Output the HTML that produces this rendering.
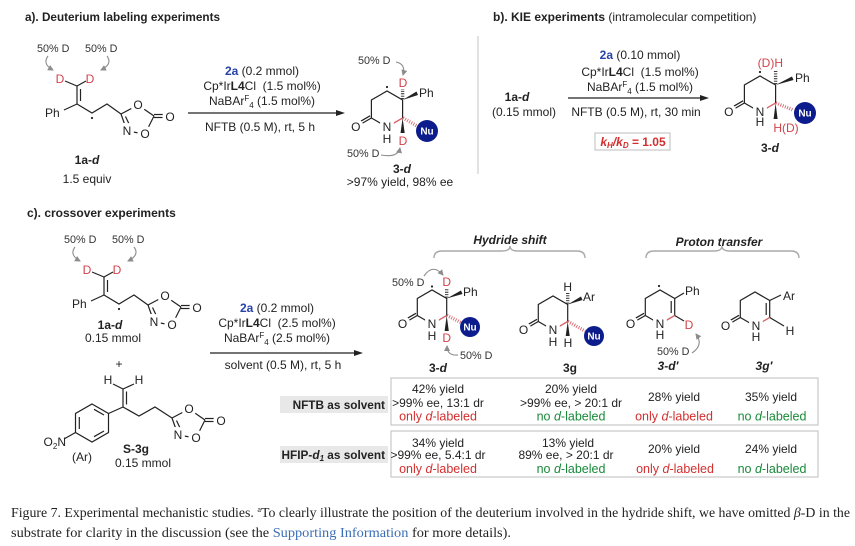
<!DOCTYPE html>
<html><head><meta charset="utf-8">
<style>
html,body{margin:0;padding:0;background:#fff;}
svg{display:block;}
text{font-family:"Liberation Sans",Arial,sans-serif;fill:#222;}
.t{font-size:12px;}
.s{font-size:10.8px;fill:#333;}
.b{font-weight:bold;}
.c{text-anchor:middle;}
.e{text-anchor:end;}
.W{fill:#fff;stroke:#fff;stroke-width:7px;stroke-linejoin:round;font-size:12px;text-anchor:middle;}
.L{font-size:12px;text-anchor:middle;fill:#222;}
.D{fill:#d2434b;font-size:12px;text-anchor:middle;}
.bd line,.bd polyline,.bd path{stroke:#222;stroke-width:1.2;fill:none;}
.rb{stroke:#d9636b;stroke-width:1.3;fill:none;}
.hs{stroke:#222;stroke-width:3.4;stroke-dasharray:0.9 1.5;fill:none;}
.hr{stroke:#d9636b;stroke-width:3.4;stroke-dasharray:0.9 1.5;fill:none;}
.gy{stroke:#8c8c8c;stroke-width:1.1;fill:none;}
.nu{fill:#0c1c8c;}
.nut{fill:#fff;font-weight:bold;font-size:10px;text-anchor:middle;}
.red{fill:#d32f2f;}
.grn{fill:#198a3a;}
.cap{font-family:"Liberation Serif",serif;font-size:13.5px;fill:#222;}
</style></head><body>
<svg width="855" height="546" viewBox="0 0 855 546">
<defs>
<marker id="ga" markerWidth="6" markerHeight="6" refX="5" refY="3" orient="auto" markerUnits="userSpaceOnUse">
<path d="M0,0 L6,3 L0,6 Z" fill="#8c8c8c"/>
</marker>
</defs>

<!-- ========== a) ========== -->
<text x="25" y="21" class="b" font-size="12" textLength="195" lengthAdjust="spacingAndGlyphs">a). Deuterium labeling experiments</text>

<g>
<text x="37" y="52" class="s">50% D</text>
<text x="85" y="52" class="s">50% D</text>
<path class="gy" d="M48,56 Q42,64 53,70" marker-end="url(#ga)"/>
<path class="gy" d="M107,56 Q113,64 101,70" marker-end="url(#ga)"/>
<g class="bd">
<line x1="65" y1="81" x2="77" y2="86"/>
<line x1="86" y1="81" x2="77" y2="86"/>
<line x1="77" y1="86" x2="77" y2="104"/>
<line x1="80.5" y1="89" x2="80.5" y2="101"/>
<line x1="64" y1="110" x2="77" y2="104"/>
<polyline points="77,104 92,113 107,104 121,114"/>
<line x1="121" y1="114" x2="138" y2="105"/>
<line x1="138" y1="105" x2="154" y2="116"/>
<line x1="154" y1="114.5" x2="166" y2="114.5"/>
<line x1="154" y1="117.5" x2="166" y2="117.5"/>
<line x1="154" y1="116" x2="145" y2="134"/>
<line x1="145" y1="134" x2="127" y2="131"/>
<line x1="127" y1="131" x2="121" y2="114"/>
<line x1="130.5" y1="127" x2="125.5" y2="116.5"/>
</g>
<circle cx="92" cy="118" r="1.1" fill="#222"/>
<text x="60" y="83" class="D">D</text>
<text x="90" y="83" class="D">D</text>
<text x="45" y="117" class="t">Ph</text>
<text x="138" y="109" class="W">O</text><text x="138" y="109" class="L">O</text>
<text x="145" y="138" class="W">O</text><text x="145" y="138" class="L">O</text>
<text x="127" y="135" class="W">N</text><text x="127" y="135" class="L">N</text>
<text x="170" y="121" class="W">O</text><text x="170" y="121" class="L">O</text>
</g>
<text x="87" y="164" class="t b c">1a-<tspan font-style="italic">d</tspan></text>
<text x="87" y="183" class="t c">1.5 equiv</text>

<text x="262" y="75" class="t c"><tspan fill="#2742a8" font-weight="bold">2a</tspan> (0.2 mmol)</text>
<text x="262" y="90" class="t c">Cp*Ir<tspan font-weight="bold">L4</tspan>Cl&#160; (1.5 mol%)</text>
<text x="262" y="105" class="t c">NaBAr<tspan dy="-4" font-size="8">F</tspan><tspan dy="7" font-size="8">4</tspan><tspan dy="-3"> (1.5 mol%)</tspan></text>
<line x1="188" y1="113" x2="337" y2="113" stroke="#222" stroke-width="1.2"/>
<polygon points="336,110 345,113 336,116" fill="#222"/>
<text x="260" y="131" class="t c">NFTB (0.5 M), rt, 5 h</text>

<!-- a product 3-d -->
<g class="bd">
<polyline points="371.4,118 371.4,100 387,91 402.6,100 402.6,118"/>
<line x1="387" y1="127" x2="371.4" y2="118"/>
<line x1="371.4" y1="118" x2="355.8" y2="127"/>
<line x1="370.1" y1="115.8" x2="354.5" y2="124.8"/>
</g>
<line class="rb" x1="402.6" y1="118" x2="387" y2="127"/>
<circle cx="387" cy="87" r="1.1" fill="#222"/>
<line class="hs" x1="402.6" y1="99" x2="402.6" y2="89"/>
<text x="403" y="87" class="D">D</text>
<text x="358" y="64" class="s">50% D</text>
<path class="gy" d="M396,62 Q406,64 403,75" marker-end="url(#ga)"/>
<polygon points="402.6,100 416.5,91.5 418,95" fill="#222"/>
<text x="419" y="97" class="t">Ph</text>
<line class="hr" x1="403" y1="118" x2="417" y2="126"/>
<circle cx="427" cy="131" r="11" class="nu"/>
<text x="427" y="134.5" class="nut">Nu</text>
<polygon points="402.6,118 400.5,133 404.7,133" fill="#222"/>
<text x="403" y="145" class="D">D</text>
<text x="355.8" y="131" class="W">O</text><text x="355.8" y="131" class="L">O</text>
<text x="387" y="131" class="W">N</text><text x="387" y="131" class="L">N</text>
<text x="387" y="143" class="t c">H</text>
<text x="347" y="157" class="s">50% D</text>
<path class="gy" d="M381,155 Q398,158 400,148" marker-end="url(#ga)"/>
<text x="402" y="173" class="t b c">3-<tspan font-style="italic">d</tspan></text>
<text x="400" y="186" class="t c">&gt;97% yield, 98% ee</text>

<!-- ========== b) ========== -->
<line x1="478" y1="36" x2="478" y2="174" stroke="#c4c4c4" stroke-width="1"/>
<text x="493" y="21" class="t"><tspan font-weight="bold">b). KIE experiments</tspan> (intramolecular competition)</text>
<text x="517" y="101" class="t b c">1a-<tspan font-style="italic">d</tspan></text>
<text x="524" y="116" class="t c">(0.15 mmol)</text>
<text x="640" y="59" class="t c"><tspan fill="#2742a8" font-weight="bold">2a</tspan> (0.10 mmol)</text>
<text x="640" y="76" class="t c">Cp*Ir<tspan font-weight="bold">L4</tspan>Cl&#160; (1.5 mol%)</text>
<text x="640" y="91" class="t c">NaBAr<tspan dy="-4" font-size="8">F</tspan><tspan dy="7" font-size="8">4</tspan><tspan dy="-3"> (1.5 mol%)</tspan></text>
<line x1="568" y1="98" x2="701" y2="98" stroke="#222" stroke-width="1.2"/>
<polygon points="700,95 709,98 700,101" fill="#222"/>
<text x="636" y="116" class="t c">NFTB (0.5 M), rt, 30 min</text>
<rect x="595" y="133" width="75" height="17" fill="#fff" stroke="#bdbdbd" stroke-width="1"/>
<text x="633" y="146" class="t c b" style="fill:#d32f2f"><tspan font-style="italic">k</tspan><tspan font-style="italic" font-size="8" dy="2">H</tspan><tspan font-style="italic" dy="-2">/k</tspan><tspan font-style="italic" font-size="8" dy="2">D</tspan><tspan dy="-2"> = 1.05</tspan></text>

<g class="bd">
<polyline points="744.4,103 744.4,85 760,76 775.6,85 775.6,103"/>
<line x1="760" y1="112" x2="744.4" y2="103"/>
<line x1="744.4" y1="103" x2="728.8" y2="112"/>
<line x1="743.1" y1="100.8" x2="727.5" y2="109.8"/>
</g>
<line class="rb" x1="775.6" y1="103" x2="760" y2="112"/>
<circle cx="760" cy="72" r="1.1" fill="#222"/>
<line class="hs" x1="775.6" y1="84" x2="775.6" y2="70"/>
<text x="783" y="67" class="D" style="text-anchor:end">(D)H</text>
<polygon points="775.6,85 792,76.5 793.5,80" fill="#222"/>
<text x="795" y="82" class="t">Ph</text>
<line class="hr" x1="776" y1="103" x2="793" y2="110"/>
<circle cx="805" cy="113" r="11" class="nu"/>
<text x="805" y="116.5" class="nut">Nu</text>
<polygon points="775.6,103 773.6,119 777.6,119" fill="#222"/>
<text x="786" y="132" class="D">H(D)</text>
<text x="728.8" y="116" class="W">O</text><text x="728.8" y="116" class="L">O</text>
<text x="760" y="116" class="W">N</text><text x="760" y="116" class="L">N</text>
<text x="760" y="126" class="t c">H</text>
<text x="770" y="152" class="t b c">3-<tspan font-style="italic">d</tspan></text>

<!-- ========== c) ========== -->
<text x="27" y="217" class="b" font-size="12">c). crossover experiments</text>

<g transform="translate(27,191)">
<text x="37" y="52" class="s">50% D</text>
<text x="85" y="52" class="s">50% D</text>
<path class="gy" d="M48,56 Q42,64 53,70" marker-end="url(#ga)"/>
<path class="gy" d="M107,56 Q113,64 101,70" marker-end="url(#ga)"/>
<g class="bd">
<line x1="65" y1="81" x2="77" y2="86"/>
<line x1="86" y1="81" x2="77" y2="86"/>
<line x1="77" y1="86" x2="77" y2="104"/>
<line x1="80.5" y1="89" x2="80.5" y2="101"/>
<line x1="64" y1="110" x2="77" y2="104"/>
<polyline points="77,104 92,113 107,104 121,114"/>
<line x1="121" y1="114" x2="138" y2="105"/>
<line x1="138" y1="105" x2="154" y2="116"/>
<line x1="154" y1="114.5" x2="166" y2="114.5"/>
<line x1="154" y1="117.5" x2="166" y2="117.5"/>
<line x1="154" y1="116" x2="145" y2="134"/>
<line x1="145" y1="134" x2="127" y2="131"/>
<line x1="127" y1="131" x2="121" y2="114"/>
<line x1="130.5" y1="127" x2="125.5" y2="116.5"/>
</g>
<circle cx="92" cy="118" r="1.1" fill="#222"/>
<text x="60" y="83" class="D">D</text>
<text x="90" y="83" class="D">D</text>
<text x="45" y="117" class="t">Ph</text>
<text x="138" y="109" class="W">O</text><text x="138" y="109" class="L">O</text>
<text x="145" y="138" class="W">O</text><text x="145" y="138" class="L">O</text>
<text x="127" y="135" class="W">N</text><text x="127" y="135" class="L">N</text>
<text x="170" y="121" class="W">O</text><text x="170" y="121" class="L">O</text>
</g>
<text x="110" y="329" class="t b c">1a-<tspan font-style="italic">d</tspan></text>
<text x="113" y="342" class="t c">0.15 mmol</text>
<text x="119" y="368" class="t c">+</text>

<!-- S-3g -->
<g class="bd">
<line x1="113" y1="384" x2="123" y2="389"/>
<line x1="134" y1="384" x2="123" y2="389"/>
<line x1="123" y1="389" x2="123" y2="407"/>
<line x1="126.5" y1="391.5" x2="126.5" y2="404.5"/>
<polygon points="92,404 108.5,413.5 108.5,432.5 92,442 75.5,432.5 75.5,413.5" style="stroke:#222;stroke-width:1.2;fill:none"/>
<line x1="94" y1="409.3" x2="104" y2="415"/>
<line x1="104" y1="431" x2="94" y2="436.7"/>
<line x1="79.3" y1="417" x2="79.3" y2="429"/>
<line x1="108.5" y1="413.5" x2="123" y2="407"/>
<line x1="75.5" y1="432.5" x2="64" y2="439"/>
<polyline points="123,407 139,416 155,407 172,418"/>
</g>
<g transform="translate(51,304)">
<g class="bd">
<line x1="121" y1="114" x2="138" y2="105"/>
<line x1="138" y1="105" x2="154" y2="116"/>
<line x1="154" y1="114.5" x2="166" y2="114.5"/>
<line x1="154" y1="117.5" x2="166" y2="117.5"/>
<line x1="154" y1="116" x2="145" y2="134"/>
<line x1="145" y1="134" x2="127" y2="131"/>
<line x1="127" y1="131" x2="121" y2="114"/>
<line x1="130.5" y1="127" x2="125.5" y2="116.5"/>
</g>
<text x="138" y="109" class="W">O</text><text x="138" y="109" class="L">O</text>
<text x="145" y="138" class="W">O</text><text x="145" y="138" class="L">O</text>
<text x="127" y="135" class="W">N</text><text x="127" y="135" class="L">N</text>
<text x="170" y="121" class="W">O</text><text x="170" y="121" class="L">O</text>
</g>
<text x="108" y="384" class="t c">H</text>
<text x="139" y="384" class="t c">H</text>
<text x="66" y="446" class="t e">O<tspan font-size="8" dy="3">2</tspan><tspan dy="-3">N</tspan></text>
<text x="82" y="461" class="t c">(Ar)</text>
<text x="136" y="453" class="t b c">S-3g</text>
<text x="143" y="467" class="t c">0.15 mmol</text>

<!-- c reagents -->
<text x="277" y="312" class="t c"><tspan fill="#2742a8" font-weight="bold">2a</tspan> (0.2 mmol)</text>
<text x="277" y="327" class="t c">Cp*Ir<tspan font-weight="bold">L4</tspan>Cl&#160; (2.5 mol%)</text>
<text x="277" y="342" class="t c">NaBAr<tspan dy="-4" font-size="8">F</tspan><tspan dy="7" font-size="8">4</tspan><tspan dy="-3"> (2.5 mol%)</tspan></text>
<line x1="210" y1="353" x2="355" y2="353" stroke="#222" stroke-width="1.2"/>
<polygon points="354,350 363,353 354,356" fill="#222"/>
<text x="283" y="369" class="t c">solvent (0.5 M), rt, 5 h</text>

<!-- headers / braces -->
<text x="510" y="244" class="t b c" font-style="italic">Hydride shift</text>
<path class="gy" style="stroke:#aaa;stroke-width:1.4" d="M434,258 Q434,251 442,251 L502,251 Q510,251 510,246 Q510,251 518,251 L577,251 Q585,251 585,258"/>
<text x="719" y="246" class="t b c" font-style="italic">Proton transfer</text>
<path class="gy" style="stroke:#aaa;stroke-width:1.4" d="M646,258 Q646,251 654,251 L714,251 Q722,251 722,246 Q722,251 730,251 L791,251 Q799,251 799,258"/>

<!-- c 3-d -->
<g class="bd">
<polyline points="417.3,315.5 417.3,298.5 432,290 446.7,298.5 446.7,315.5"/>
<line x1="432" y1="324" x2="417.3" y2="315.5"/>
<line x1="417.3" y1="315.5" x2="402.6" y2="324"/>
<line x1="416" y1="313.3" x2="401.3" y2="321.8"/>
</g>
<line class="rb" x1="446.7" y1="315.5" x2="432" y2="324"/>
<circle cx="432" cy="286.5" r="1.1" fill="#222"/>
<line class="hs" x1="446.7" y1="297.5" x2="446.7" y2="288"/>
<text x="446.7" y="286" class="D">D</text>
<text x="392" y="286" class="s">50% D</text>
<path class="gy" d="M424,276 Q433,263 443,275" marker-end="url(#ga)"/>
<polygon points="446.7,298.5 461,290.5 462.5,294" fill="#222"/>
<text x="463" y="296" class="t">Ph</text>
<line class="hr" x1="447" y1="315.5" x2="461" y2="322.5"/>
<circle cx="470" cy="327" r="10" class="nu"/>
<text x="470" y="330.5" class="nut">Nu</text>
<polygon points="446.7,315.5 444.6,331 448.8,331" fill="#222"/>
<text x="446.7" y="342" class="D">D</text>
<text x="402.6" y="328" class="W">O</text><text x="402.6" y="328" class="L">O</text>
<text x="432" y="328" class="W">N</text><text x="432" y="328" class="L">N</text>
<text x="432" y="340" class="t c">H</text>
<text x="460" y="359" class="s">50% D</text>
<path class="gy" d="M458,355 Q447,356 447,346" marker-end="url(#ga)"/>
<text x="438" y="372" class="t b c">3-<tspan font-style="italic">d</tspan></text>

<!-- c 3g -->
<g class="bd">
<polyline points="538.3,321.5 538.3,304.5 553,296 567.7,304.5 567.7,321.5"/>
<line x1="553" y1="330" x2="538.3" y2="321.5"/>
<line x1="538.3" y1="321.5" x2="523.6" y2="330"/>
<line x1="537" y1="319.3" x2="522.3" y2="327.8"/>
</g>
<line class="rb" x1="567.7" y1="321.5" x2="553" y2="330"/>
<line class="hs" x1="567.7" y1="303.5" x2="567.7" y2="293"/>
<text x="567.7" y="291" class="t c">H</text>
<polygon points="567.7,304.5 581,296.5 582.5,300" fill="#222"/>
<text x="583" y="301" class="t">Ar</text>
<line class="hr" x1="568" y1="321.5" x2="585" y2="331"/>
<circle cx="594" cy="336" r="10" class="nu"/>
<text x="594" y="339.5" class="nut">Nu</text>
<polygon points="567.7,321.5 565.7,336 569.7,336" fill="#222"/>
<text x="568" y="347" class="t c">H</text>
<text x="523.6" y="334" class="W">O</text><text x="523.6" y="334" class="L">O</text>
<text x="553" y="334" class="W">N</text><text x="553" y="334" class="L">N</text>
<text x="553" y="346" class="t c">H</text>
<text x="570" y="372" class="t b c">3g</text>

<!-- c 3-d' -->
<g class="bd">
<polyline points="645.3,315.5 645.3,298.5 660,290 674.7,298.5 674.7,315.5"/>
<line x1="671.2" y1="301" x2="671.2" y2="313"/>
<line x1="660" y1="324" x2="645.3" y2="315.5"/>
<line x1="645.3" y1="315.5" x2="630.6" y2="324"/>
<line x1="644" y1="313.3" x2="629.3" y2="321.8"/>
<line x1="674.7" y1="298.5" x2="684" y2="293"/>
<line x1="674.7" y1="315.5" x2="684" y2="321"/>
</g>
<line class="rb" x1="674.7" y1="315.5" x2="660" y2="324"/>
<circle cx="659" cy="286" r="1.1" fill="#222"/>
<text x="685" y="295" class="t">Ph</text>
<text x="689" y="329" class="D">D</text>
<text x="630.6" y="328" class="W">O</text><text x="630.6" y="328" class="L">O</text>
<text x="660" y="328" class="W">N</text><text x="660" y="328" class="L">N</text>
<text x="660" y="339" class="t c">H</text>
<text x="657" y="355" class="s">50% D</text>
<path class="gy" d="M692,353 Q704,345 696,334" marker-end="url(#ga)"/>
<text x="668" y="370" class="t b c" font-style="italic">3-d′</text>

<!-- c 3g' -->
<g class="bd">
<polyline points="740.3,317.5 740.3,300.5 755,292 769.7,300.5 769.7,317.5"/>
<line x1="766.2" y1="303" x2="766.2" y2="315"/>
<line x1="755" y1="326" x2="740.3" y2="317.5"/>
<line x1="740.3" y1="317.5" x2="725.6" y2="326"/>
<line x1="739" y1="315.3" x2="724.3" y2="323.8"/>
<line x1="769.7" y1="300.5" x2="781" y2="295"/>
<line x1="769.7" y1="317.5" x2="784" y2="326"/>
</g>
<line class="rb" x1="769.7" y1="317.5" x2="755" y2="326"/>
<text x="783" y="300" class="t">Ar</text>
<text x="790" y="335" class="t c">H</text>
<text x="725.6" y="330" class="W">O</text><text x="725.6" y="330" class="L">O</text>
<text x="756" y="330" class="W">N</text><text x="756" y="330" class="L">N</text>
<text x="756" y="341" class="t c">H</text>
<text x="764" y="370" class="t b c" font-style="italic">3g′</text>

<!-- table -->
<rect x="280" y="396" width="108" height="17" fill="#e8e8e8"/>
<rect x="280" y="446" width="108" height="17" fill="#e8e8e8"/>
<text x="385" y="409" class="b e" font-size="11.8">NFTB as solvent</text>
<text x="385" y="459" class="b e" font-size="11.8">HFIP-<tspan font-style="italic">d</tspan><tspan font-style="italic" font-size="8" dy="2">1</tspan><tspan dy="-2"> as solvent</tspan></text>
<rect x="391" y="378" width="427" height="47" fill="#fff" stroke="#c8c8c8" stroke-width="1.2"/>
<rect x="391" y="431" width="427" height="46" fill="#fff" stroke="#c8c8c8" stroke-width="1.2"/>

<text x="438" y="393" class="t c">42% yield</text>
<text x="438" y="407" class="t c">&gt;99% ee, 13:1 dr</text>
<text x="438" y="420.5" class="c red" font-size="12.5">only <tspan font-style="italic">d</tspan>-labeled</text>
<text x="571" y="393" class="t c">20% yield</text>
<text x="571" y="407" class="t c">&gt;99% ee, &gt; 20:1 dr</text>
<text x="571" y="420.5" class="c grn" font-size="12.5">no <tspan font-style="italic">d</tspan>-labeled</text>
<text x="674" y="401" class="t c">28% yield</text>
<text x="674" y="420.5" class="c red" font-size="12.5">only <tspan font-style="italic">d</tspan>-labeled</text>
<text x="771" y="401" class="t c">35% yield</text>
<text x="772" y="420.5" class="c grn" font-size="12.5">no <tspan font-style="italic">d</tspan>-labeled</text>

<text x="438" y="447" class="t c">34% yield</text>
<text x="438" y="459" class="t c">&gt;99% ee, 5.4:1 dr</text>
<text x="438" y="473" class="c red" font-size="12.5">only <tspan font-style="italic">d</tspan>-labeled</text>
<text x="568" y="447" class="t c">13% yield</text>
<text x="566" y="459" class="t c">89% ee, &gt; 20:1 dr</text>
<text x="571" y="473" class="c grn" font-size="12.5">no <tspan font-style="italic">d</tspan>-labeled</text>
<text x="674" y="453" class="t c">20% yield</text>
<text x="675" y="473" class="c red" font-size="12.5">only <tspan font-style="italic">d</tspan>-labeled</text>
<text x="771" y="453" class="t c">24% yield</text>
<text x="772" y="473" class="c grn" font-size="12.5">no <tspan font-style="italic">d</tspan>-labeled</text>

<!-- caption -->
<text x="11" y="517" class="cap" textLength="839" lengthAdjust="spacingAndGlyphs">Figure 7. Experimental mechanistic studies. <tspan font-size="8" dy="-5">a</tspan><tspan dy="5">To clearly illustrate the position of the deuterium involved in the hydride shift, we have omitted </tspan><tspan font-style="italic">β</tspan>-D in the</text>
<text x="11" y="537" class="cap" textLength="500" lengthAdjust="spacingAndGlyphs">substrate for clarity in the discussion (see the <tspan style="fill:#3b6db5">Supporting Information</tspan> for more details).</text>
</svg>
</body></html>
